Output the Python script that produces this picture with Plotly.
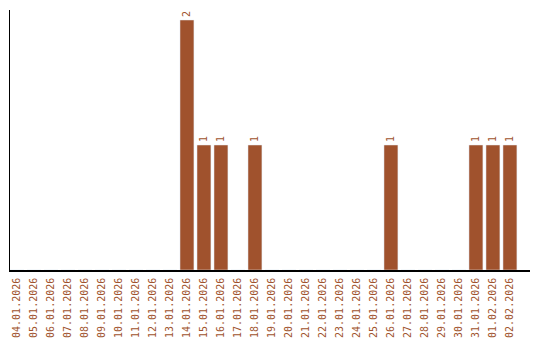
import plotly.graph_objects as go

dates = ["04.01.2026", "05.01.2026", "06.01.2026", "07.01.2026", "08.01.2026",
         "09.01.2026", "10.01.2026", "11.01.2026", "12.01.2026", "13.01.2026",
         "14.01.2026", "15.01.2026", "16.01.2026", "17.01.2026", "18.01.2026",
         "19.01.2026", "20.01.2026", "21.01.2026", "22.01.2026", "23.01.2026",
         "24.01.2026", "25.01.2026", "26.01.2026", "27.01.2026", "28.01.2026",
         "29.01.2026", "30.01.2026", "31.01.2026", "01.02.2026", "02.02.2026"]
counts = [0, 0, 0, 0, 0, 0, 0, 0, 0, 0,
          2, 1, 1, 0, 1, 0, 0, 0, 0, 0,
          0, 0, 1, 0, 0, 0, 0, 1, 1, 1]

color = "#a0522d"
font_family = "DejaVu Sans Mono"
labels = [str(v) if v > 0 else "" for v in counts]

fig = go.Figure(go.Bar(
    x=list(range(len(dates))), y=counts, marker_color=color,
    text=labels, textposition="outside", textangle=-90,
    textfont=dict(family=font_family, size=10, color=color),
    cliponaxis=False, hoverinfo="skip",
))
fig.update_layout(
    width=540, height=340,
    margin=dict(l=10, r=10, t=10, b=70),
    paper_bgcolor="white", plot_bgcolor="white",
    bargap=0.18, showlegend=False,
    font=dict(family=font_family, size=10, color=color),
)
fig.update_xaxes(
    tickmode="array", tickvals=list(range(len(dates))), ticktext=dates,
    tickangle=-90, range=[-0.41, 30.18], automargin=False,
    showline=True, linecolor="black", linewidth=1.5,
    showgrid=False, zeroline=False, ticks="outside", ticklen=2, tickcolor="white",
    tickfont=dict(family=font_family, size=10, color=color),
)
fig.update_yaxes(
    range=[0, 2.08], showline=True, linecolor="black", linewidth=1,
    showgrid=False, zeroline=False, showticklabels=False, ticks="",
    automargin=False,
)
fig.write_html("out.html")
